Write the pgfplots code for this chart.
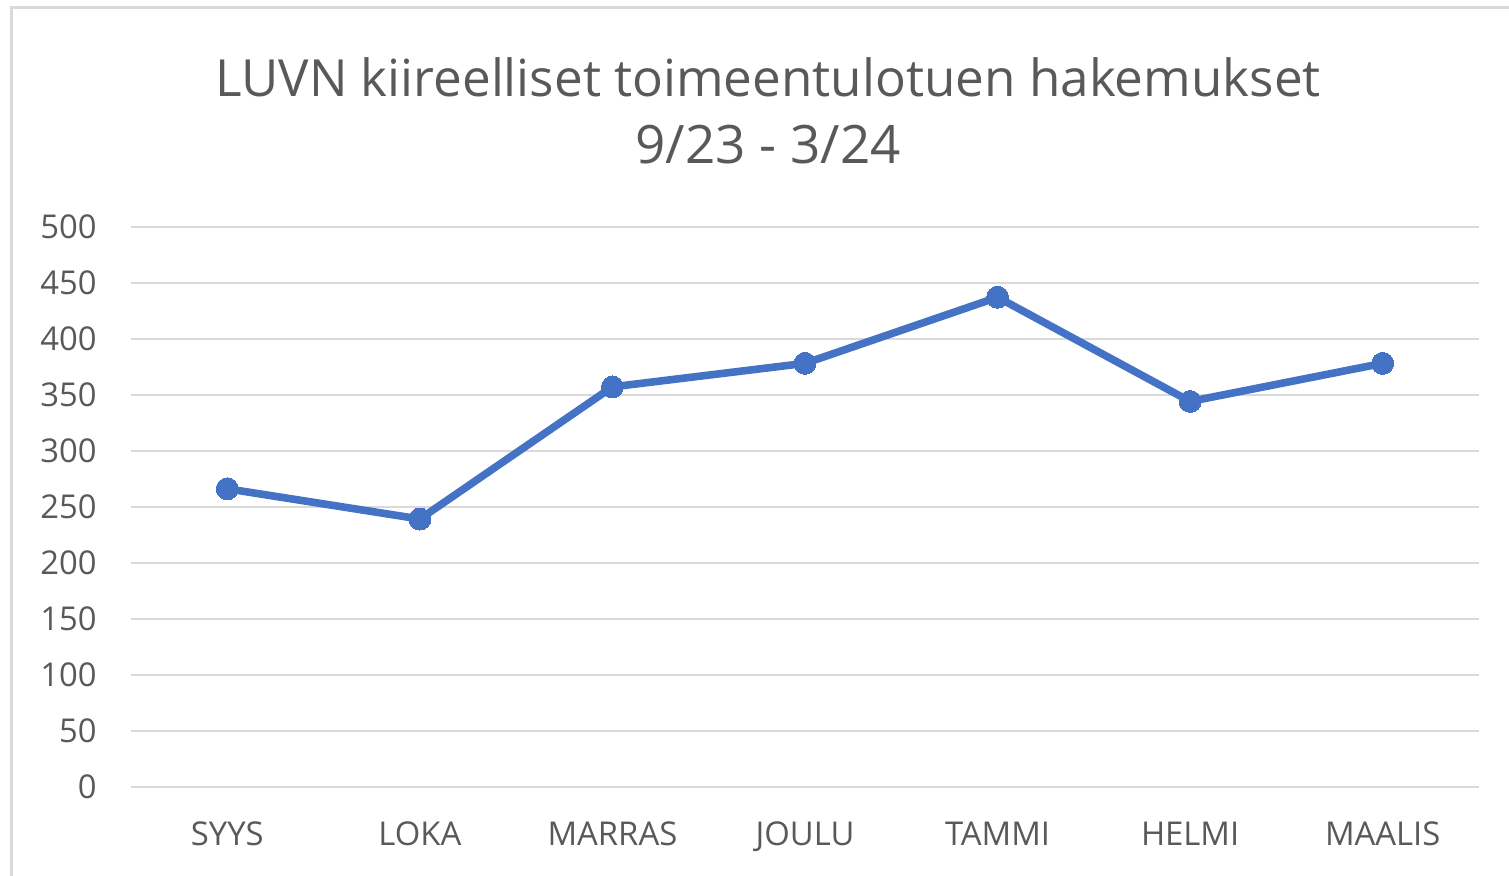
\documentclass[border=0pt]{standalone}
\usepackage{fontspec}
\setmainfont{Open Sans}
\usepackage{pgfplots}
\pgfplotsset{compat=1.18}
\definecolor{linec}{HTML}{4472C4}
\definecolor{txt}{HTML}{595959}
\definecolor{gridc}{HTML}{D9D9D9}
\begin{document}
\begin{tikzpicture}
\begin{axis}[
  at={(0pt,0pt)}, anchor=south west,
  scale only axis, width=674pt, height=280pt,
  xmin=-0.5, xmax=6.5, ymin=0, ymax=500,
  ytick={0,50,...,500},
  xtick={0,1,2,3,4,5,6},
  xticklabels={SYYS,LOKA,MARRAS,JOULU,TAMMI,HELMI,MAALIS},
  axis line style={draw=none},
  major tick length=0pt,
  ymajorgrids, grid style={gridc, line width=1pt},
  /pgf/number format/assume math mode=true,
  yticklabel style={font=\fontsize{16.4}{18}\selectfont, text=txt, inner sep=0pt, anchor=east, xshift=-17pt},
  xticklabel style={font=\fontsize{16.4}{18}\selectfont, text=txt, inner sep=0pt, anchor=base, yshift=-29.6pt},
  clip=false,
]
\addplot[linec, line width=3.8pt, mark=*, mark size=5.5pt, mark options={fill=linec, draw=linec, line width=0pt}]
 coordinates {(0,266) (1,239) (2,357) (3,378) (4,437) (5,344) (6,378)};
\end{axis}
\node[text=txt, font=\fontsize{25.6}{30}\selectfont] at (318.5pt,354.85pt) {LUVN kiireelliset toimeentulotuen hakemukset};
\node[text=txt, font=\fontsize{26.5}{30}\selectfont] at (318.5pt,321.3pt) {9/23 - 3/24};
\draw[gridc, line width=1.5pt] (-59.5pt,-60pt) -- (-59.5pt,389.6pt) -- (710pt,389.6pt);
\pgfresetboundingbox
\path[use as bounding box] (-65.5pt,-44.15pt) rectangle (689pt,393.35pt);
\end{tikzpicture}
\end{document}
